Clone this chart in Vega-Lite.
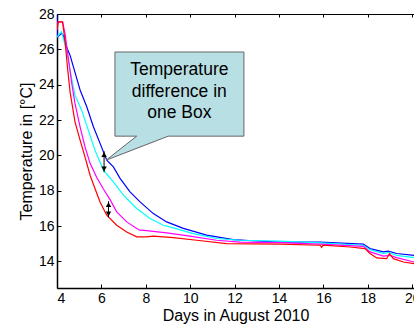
{
  "$schema": "https://vega.github.io/schema/vega-lite/v6.json",
  "width": 357,
  "height": 274,
  "autosize": {"type": "none"},
  "padding": {"left": 57, "top": 14, "right": 0, "bottom": 38},
  "background": "white",
  "config": {
    "view": {"stroke": null},
    "font": "Liberation Sans",
    "axis": {
      "grid": false,
      "domainColor": "black",
      "tickColor": "black",
      "labelColor": "black",
      "titleColor": "black",
      "labelFont": "Liberation Sans",
      "titleFont": "Liberation Sans",
      "labelFontSize": 14,
      "titleFontSize": 16,
      "titleFontWeight": "normal"
    }
  },
  "datasets": {
    "curves": [
      {"s": "blue", "day": 4.0, "temp": 28.0},
      {"s": "blue", "day": 4.02, "temp": 26.7},
      {"s": "blue", "day": 4.2, "temp": 26.9},
      {"s": "blue", "day": 4.28, "temp": 26.8},
      {"s": "blue", "day": 4.44, "temp": 26.1},
      {"s": "blue", "day": 4.59, "temp": 25.66},
      {"s": "blue", "day": 4.81, "temp": 24.7},
      {"s": "blue", "day": 5.04, "temp": 23.7},
      {"s": "blue", "day": 5.34, "temp": 22.75},
      {"s": "blue", "day": 5.64, "temp": 21.62},
      {"s": "blue", "day": 5.94, "temp": 20.68},
      {"s": "blue", "day": 6.24, "temp": 19.73},
      {"s": "blue", "day": 6.54, "temp": 19.35},
      {"s": "blue", "day": 6.84, "temp": 18.7},
      {"s": "blue", "day": 7.29, "temp": 17.94},
      {"s": "blue", "day": 7.74, "temp": 17.37},
      {"s": "blue", "day": 8.34, "temp": 16.71},
      {"s": "blue", "day": 8.94, "temp": 16.24},
      {"s": "blue", "day": 9.69, "temp": 15.87},
      {"s": "blue", "day": 10.74, "temp": 15.49},
      {"s": "blue", "day": 11.94, "temp": 15.24},
      {"s": "blue", "day": 13.0, "temp": 15.16},
      {"s": "blue", "day": 14.05, "temp": 15.1},
      {"s": "blue", "day": 15.85, "temp": 15.1},
      {"s": "blue", "day": 17.8, "temp": 14.98},
      {"s": "blue", "day": 18.1, "temp": 14.73},
      {"s": "blue", "day": 18.7, "temp": 14.54},
      {"s": "blue", "day": 18.92, "temp": 14.58},
      {"s": "blue", "day": 19.3, "temp": 14.45},
      {"s": "blue", "day": 20.08, "temp": 14.35},
      {"s": "cyan", "day": 4.0, "temp": 26.7},
      {"s": "cyan", "day": 4.21, "temp": 27.0},
      {"s": "cyan", "day": 4.44, "temp": 25.85},
      {"s": "cyan", "day": 4.66, "temp": 24.34},
      {"s": "cyan", "day": 4.81, "temp": 23.41},
      {"s": "cyan", "day": 5.11, "temp": 22.56},
      {"s": "cyan", "day": 5.41, "temp": 21.43},
      {"s": "cyan", "day": 5.71, "temp": 20.3},
      {"s": "cyan", "day": 6.09, "temp": 19.17},
      {"s": "cyan", "day": 6.54, "temp": 18.5},
      {"s": "cyan", "day": 6.99, "temp": 17.75},
      {"s": "cyan", "day": 7.59, "temp": 17.0},
      {"s": "cyan", "day": 8.19, "temp": 16.43},
      {"s": "cyan", "day": 8.79, "temp": 16.05},
      {"s": "cyan", "day": 9.24, "temp": 15.9},
      {"s": "cyan", "day": 10.14, "temp": 15.58},
      {"s": "cyan", "day": 11.19, "temp": 15.3},
      {"s": "cyan", "day": 12.24, "temp": 15.2},
      {"s": "cyan", "day": 14.05, "temp": 15.15},
      {"s": "cyan", "day": 15.85, "temp": 15.05},
      {"s": "cyan", "day": 17.8, "temp": 14.92},
      {"s": "cyan", "day": 18.1, "temp": 14.67},
      {"s": "cyan", "day": 18.7, "temp": 14.45},
      {"s": "cyan", "day": 18.92, "temp": 14.51},
      {"s": "cyan", "day": 19.3, "temp": 14.35},
      {"s": "cyan", "day": 20.08, "temp": 14.22},
      {"s": "magenta", "day": 4.0, "temp": 27.1},
      {"s": "magenta", "day": 4.05, "temp": 27.55},
      {"s": "magenta", "day": 4.25, "temp": 27.55},
      {"s": "magenta", "day": 4.36, "temp": 26.9},
      {"s": "magenta", "day": 4.51, "temp": 25.5},
      {"s": "magenta", "day": 4.66, "temp": 24.1},
      {"s": "magenta", "day": 4.81, "temp": 22.95},
      {"s": "magenta", "day": 5.04, "temp": 21.62},
      {"s": "magenta", "day": 5.26, "temp": 20.49},
      {"s": "magenta", "day": 5.49, "temp": 19.55},
      {"s": "magenta", "day": 5.79, "temp": 18.75},
      {"s": "magenta", "day": 6.09, "temp": 18.1},
      {"s": "magenta", "day": 6.39, "temp": 17.5},
      {"s": "magenta", "day": 6.69, "temp": 16.81},
      {"s": "magenta", "day": 7.14, "temp": 16.24},
      {"s": "magenta", "day": 7.59, "temp": 15.87},
      {"s": "magenta", "day": 7.74, "temp": 15.77},
      {"s": "magenta", "day": 8.04, "temp": 15.75},
      {"s": "magenta", "day": 8.94, "temp": 15.62},
      {"s": "magenta", "day": 9.99, "temp": 15.43},
      {"s": "magenta", "day": 11.19, "temp": 15.2},
      {"s": "magenta", "day": 12.24, "temp": 15.1},
      {"s": "magenta", "day": 14.05, "temp": 15.07},
      {"s": "magenta", "day": 15.85, "temp": 14.98},
      {"s": "magenta", "day": 17.8, "temp": 14.86},
      {"s": "magenta", "day": 18.1, "temp": 14.54},
      {"s": "magenta", "day": 18.7, "temp": 14.3},
      {"s": "magenta", "day": 19.0, "temp": 14.35},
      {"s": "magenta", "day": 19.3, "temp": 14.22},
      {"s": "magenta", "day": 20.08, "temp": 13.97},
      {"s": "red", "day": 4.0, "temp": 27.1},
      {"s": "red", "day": 4.05, "temp": 27.55},
      {"s": "red", "day": 4.25, "temp": 27.55},
      {"s": "red", "day": 4.36, "temp": 26.5},
      {"s": "red", "day": 4.47, "temp": 25.0},
      {"s": "red", "day": 4.59, "temp": 23.58},
      {"s": "red", "day": 4.81, "temp": 21.9},
      {"s": "red", "day": 5.04, "temp": 20.87},
      {"s": "red", "day": 5.26, "temp": 19.92},
      {"s": "red", "day": 5.49, "temp": 18.88},
      {"s": "red", "day": 5.71, "temp": 18.13},
      {"s": "red", "day": 5.94, "temp": 17.37},
      {"s": "red", "day": 6.24, "temp": 16.62},
      {"s": "red", "day": 6.69, "temp": 16.05},
      {"s": "red", "day": 7.14, "temp": 15.67},
      {"s": "red", "day": 7.59, "temp": 15.39},
      {"s": "red", "day": 8.04, "temp": 15.39},
      {"s": "red", "day": 8.34, "temp": 15.43},
      {"s": "red", "day": 9.24, "temp": 15.35},
      {"s": "red", "day": 10.29, "temp": 15.2},
      {"s": "red", "day": 11.64, "temp": 15.01},
      {"s": "red", "day": 14.05, "temp": 14.98},
      {"s": "red", "day": 15.85, "temp": 14.92},
      {"s": "red", "day": 15.92, "temp": 14.8},
      {"s": "red", "day": 15.98, "temp": 14.92},
      {"s": "red", "day": 17.2, "temp": 14.82},
      {"s": "red", "day": 17.87, "temp": 14.73},
      {"s": "red", "day": 18.1, "temp": 14.45},
      {"s": "red", "day": 18.4, "temp": 14.2},
      {"s": "red", "day": 18.85, "temp": 14.16},
      {"s": "red", "day": 18.97, "temp": 14.45},
      {"s": "red", "day": 19.15, "temp": 14.16},
      {"s": "red", "day": 19.6, "temp": 13.97},
      {"s": "red", "day": 20.08, "temp": 13.88}
    ],
    "callout": [
      {"o": 1, "day": 6.61, "temp": 25.85},
      {"o": 2, "day": 12.42, "temp": 25.85},
      {"o": 3, "day": 12.42, "temp": 21.09},
      {"o": 4, "day": 9.01, "temp": 21.09},
      {"o": 5, "day": 6.21, "temp": 19.73},
      {"o": 6, "day": 7.59, "temp": 21.09},
      {"o": 7, "day": 6.61, "temp": 21.09},
      {"o": 8, "day": 6.61, "temp": 25.85}
    ],
    "labels": [
      {"day": 9.51, "temp": 24.55, "text": "Temperature"},
      {"day": 9.51, "temp": 23.32, "text": "difference in"},
      {"day": 9.51, "temp": 22.09, "text": "one Box"}
    ],
    "arrows": [
      {"day": 6.12, "top": 20.24, "bot": 19.05},
      {"day": 6.32, "top": 17.41, "bot": 16.5}
    ],
    "heads": [
      {"day": 6.12, "temp": 20.05, "dir": "up"},
      {"day": 6.12, "temp": 19.24, "dir": "down"},
      {"day": 6.32, "temp": 17.22, "dir": "up"},
      {"day": 6.32, "temp": 16.69, "dir": "down"}
    ]
  },
  "layer": [
    {
      "data": {"name": "curves"},
      "mark": {"type": "line", "strokeWidth": 1.2, "clip": true},
      "encoding": {
        "x": {
          "field": "day", "type": "quantitative",
          "scale": {"domain": [4, 20.08], "nice": false, "zero": false},
          "axis": {
            "orient": "bottom",
            "title": "Days in August 2010",
            "values": [4, 6, 8, 10, 12, 14, 16, 18, 20],
            "domainWidth": 1.5,
            "tickSize": -4,
            "labelPadding": 7,
            "titlePadding": 2
          }
        },
        "y": {
          "field": "temp", "type": "quantitative",
          "scale": {"domain": [12.5, 28], "nice": false, "zero": false},
          "axis": {
            "orient": "left",
            "title": "Temperature in [°C]",
            "values": [14, 16, 18, 20, 22, 24, 26, 28],
            "domainWidth": 1.5,
            "tickSize": -4,
            "labelPadding": 7,
            "titlePadding": 4
          }
        },
        "color": {
          "field": "s", "type": "nominal",
          "scale": {"domain": ["blue", "cyan", "magenta", "red"], "range": ["#0000ff", "#00ffff", "#ff00ff", "#ff0000"]},
          "legend": null
        },
        "order": {"field": "day", "type": "quantitative"}
      }
    },
    {
      "data": {"name": "callout"},
      "mark": {"type": "line", "fill": "#b8dfe3", "stroke": "#666666", "strokeWidth": 1, "interpolate": "linear"},
      "encoding": {
        "x": {
          "field": "day", "type": "quantitative",
          "axis": {
            "orient": "top",
            "title": null,
            "labels": false,
            "values": [4, 6, 8, 10, 12, 14, 16, 18, 20],
            "domainWidth": 1,
            "tickSize": -3
          }
        },
        "y": {"field": "temp", "type": "quantitative", "axis": null},
        "order": {"field": "o", "type": "quantitative"}
      }
    },
    {
      "data": {"name": "labels"},
      "mark": {"type": "text", "font": "Liberation Sans", "fontSize": 17.5, "align": "center", "baseline": "alphabetic", "color": "black"},
      "encoding": {
        "x": {"field": "day", "type": "quantitative", "axis": null},
        "y": {"field": "temp", "type": "quantitative", "axis": null},
        "text": {"field": "text"}
      }
    },
    {
      "data": {"name": "arrows"},
      "mark": {"type": "rule", "color": "black", "strokeWidth": 1},
      "encoding": {
        "x": {"field": "day", "type": "quantitative", "axis": null},
        "y": {"field": "top", "type": "quantitative", "axis": null},
        "y2": {"field": "bot"}
      }
    },
    {
      "data": {"name": "heads"},
      "mark": {"type": "point", "filled": true, "color": "black", "size": 30, "opacity": 1},
      "encoding": {
        "x": {"field": "day", "type": "quantitative", "axis": null},
        "y": {"field": "temp", "type": "quantitative", "axis": null},
        "shape": {
          "field": "dir", "type": "nominal",
          "scale": {"domain": ["up", "down"], "range": ["triangle-up", "triangle-down"]},
          "legend": null
        }
      }
    }
  ],
  "resolve": {"axis": {"x": "independent", "y": "independent"}}
}
